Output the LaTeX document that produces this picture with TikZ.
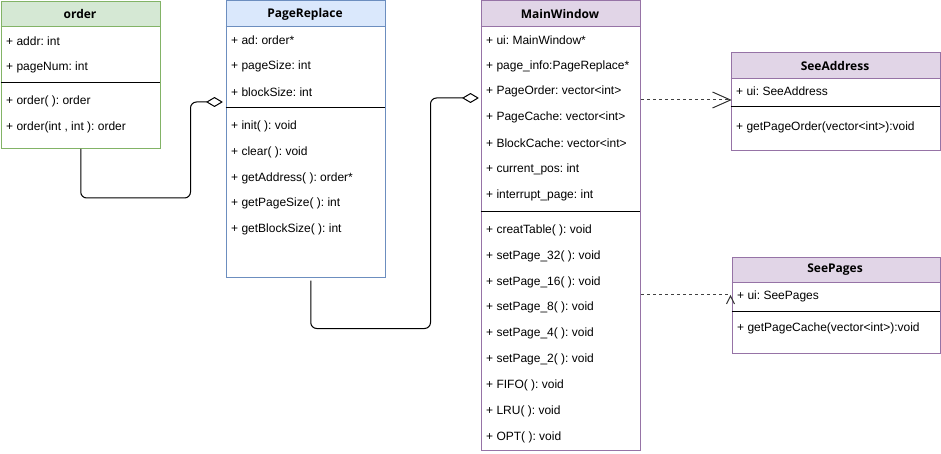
\documentclass[tikz,border=0pt]{standalone}
\usepackage{fontspec}
\setmainfont{Liberation Sans}
\newfontfamily\headfont{Open Sans}
\usetikzlibrary{arrows.meta,calc}

\definecolor{greenfill}{HTML}{D5E8D4}
\definecolor{greenline}{HTML}{82B366}
\definecolor{bluefill}{HTML}{DAE8FC}
\definecolor{blueline}{HTML}{6C8EBF}
\definecolor{purplefill}{HTML}{E1D5E7}
\definecolor{purpleline}{HTML}{9673A6}

\tikzset{
  classbox/.style={draw=#1, line width=1pt, rectangle, anchor=north west, inner sep=0pt},
  member/.style={anchor=west, inner sep=0pt, font=\fontsize{12}{14}\selectfont},
  title/.style={inner sep=0pt, font=\headfont\bfseries\fontsize{12}{14}\selectfont},
  sep/.style={line width=1pt, black},
  agg/.style={line width=1pt, rounded corners=6pt, -{Diamond[open, length=17pt, width=10pt, line width=1pt, round]}},
  dep/.style={line width=1pt, dash pattern=on 3pt off 3pt, color=black!75},
  barb/.style={line width=1pt, color=black!80}
}

% draws a class box: name, x, y (top), width, height, header height, colours
\newcommand{\umlclass}[8]{%
  \fill[#7] (#2,#3) rectangle ++(#4,#6);
  \node[classbox=#8, minimum width=#4pt, minimum height=#5pt] (#1) at (#2,#3) {};
  \draw[#8, line width=1pt] (#2,#3+#6) -- ++(#4,0);
}

\begin{document}
\frenchspacing
\begin{tikzpicture}[x=1pt,y=-1pt]
\useasboundingbox (0,0) rectangle (941,454);

% ---- order ----
\umlclass{order}{0.5}{1.5}{159.5}{146.5}{25.5}{greenfill}{greenline}
\node[title] (orderT) at (80,14) {order};
\node[member] (o1) at (6,41) {+ addr: int};
\node[member] (o2) at (6,67) {+ pageNum: int};
\draw[sep] (0.5,83) -- (160,83);
\node[member] (o3) at (6,101) {+ order( ): order};
\node[member] (o4) at (6,127) {+ order(int , int ): order};

% ---- PageReplace ----
\umlclass{pagereplace}{225.5}{0.5}{159.5}{276}{26}{bluefill}{blueline}
\node[title] (prT) at (305,14) {PageReplace};
\node[member] (p1) at (231,40) {+ ad: order*};
\node[member] (p2) at (231,66) {+ pageSize: int};
\node[member] (p3) at (231,92) {+ blockSize: int};
\draw[sep] (225.5,108) -- (385,108);
\node[member] (p4) at (231,126) {+ init( ): void};
\node[member] (p5) at (231,152) {+ clear( ): void};
\node[member] (p6) at (231,178) {+ getAddress( ): order*};
\node[member] (p7) at (231,203) {+ getPageSize( ): int};
\node[member] (p8) at (231,229) {+ getBlockSize( ): int};

% ---- MainWindow ----
\umlclass{mainwindow}{480.5}{0.5}{159.5}{449.5}{26.5}{purplefill}{purpleline}
\node[title] (mwT) at (560,14) {MainWindow};
\node[member] (m1) at (486,40) {+ ui: MainWindow*};
\node[member] (m2) at (486,66) {+ page\_info:PageReplace*};
\node[member] (m3) at (486,91) {+ PageOrder: vector<int>};
\node[member] (m4) at (486,117) {+ PageCache: vector<int>};
\node[member] (m5) at (486,143) {+ BlockCache: vector<int>};
\node[member] (m6) at (486,169) {+ current\_pos: int};
\node[member] (m7) at (486,195) {+ interrupt\_page: int};
\draw[sep] (480.5,212) -- (640,212);
\node[member] (m8) at (486,230) {+ creatTable( ): void};
\node[member] (m9) at (486,256) {+ setPage\_32( ): void};
\node[member] (m10) at (486,282) {+ setPage\_16( ): void};
\node[member] (m11) at (486,307) {+ setPage\_8( ): void};
\node[member] (m12) at (486,333) {+ setPage\_4( ): void};
\node[member] (m13) at (486,359) {+ setPage\_2( ): void};
\node[member] (m14) at (486,385) {+ FIFO( ): void};
\node[member] (m15) at (486,411) {+ LRU( ): void};
\node[member] (m16) at (486,437) {+ OPT( ): void};

% ---- SeeAddress ----
\umlclass{seeaddress}{730.5}{52.5}{209.5}{97.5}{26}{purplefill}{purpleline}
\node[title] (saT) at (835,66) {SeeAddress};
\node[member] (s1) at (736,91) {+ ui: SeeAddress};
\draw[sep] (730.5,107) -- (940,107);
\node[member] (s2) at (736,127) {+ getPageOrder(vector<int>):void};

% ---- SeePages ----
\umlclass{seepages}{731.5}{256.5}{208.5}{96.5}{26}{purplefill}{purpleline}
\node[title] (spT) at (835,270) {SeePages};
\node[member] (q1) at (737,296) {+ ui: SeePages};
\draw[sep] (731.5,311) -- (940,311);
\node[member] (q2) at (737,328) {+ getPageCache(vector<int>):void};

% ---- connectors ----
\coordinate (aggPR) at ($(pagereplace.north west)+(-3,101.5)$);
\draw[agg] (order.south) -- ++(0,49) -| ($(aggPR)+(-32,0)$) -- (aggPR);

\coordinate (prFoot) at ($(pagereplace.south)+(5,3)$);
\coordinate (aggMW) at ($(mainwindow.north west)+(-2,97.5)$);
\draw[agg] (prFoot) -- ++(0,48) -| ($(aggMW)+(-48,0)$) -- (aggMW);

\coordinate (depA) at ($(mainwindow.north east)+(0,99.5)$);
\coordinate (depAend) at (seeaddress.west |- depA);
\draw[dep] (depA) -- (depAend);
\draw[barb] ($(depAend)+(-18,-8)$) -- (depAend) -- ($(depAend)+(-18,8)$);

\coordinate (depP) at ($(mainwindow.north east)+(0,293.5)$);
\coordinate (depPend) at ($(seepages.west |- depP)+(-1,0)$);
\draw[dep] (depP) -- (depPend);
\draw[barb] ($(depPend)+(-4,10)$) -- ($(depPend)+(0,2)$) -- ($(depPend)+(4,10)$);
\end{tikzpicture}
\end{document}
